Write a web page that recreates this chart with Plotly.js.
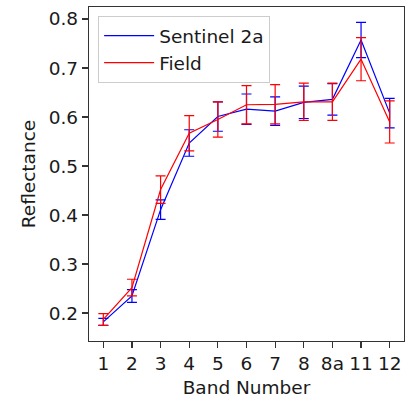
<!DOCTYPE html>
<html>
<head>
<meta charset="utf-8">
<script src="https://cdn.plot.ly/plotly-3.0.1.min.js"></script>
<style>html,body{margin:0;padding:0;background:#fff;}#chart{width:408px;height:398px;}</style>
</head>
<body>
<div id="chart"></div>
<script>
const bands = ["1","2","3","4","5","6","7","8","8a","11","12"];
const sentinelMean = [0.182, 0.235, 0.411, 0.547, 0.601, 0.616, 0.612, 0.630, 0.636, 0.757, 0.608];
const sentinelErr  = [0.007, 0.013, 0.020, 0.027, 0.030, 0.031, 0.029, 0.033, 0.032, 0.036, 0.030];
const fieldMean    = [0.187, 0.252, 0.452, 0.567, 0.595, 0.625, 0.626, 0.631, 0.631, 0.718, 0.590];
const fieldErr     = [0.012, 0.017, 0.028, 0.036, 0.036, 0.039, 0.040, 0.038, 0.038, 0.044, 0.043];

const font = {family: "DejaVu Sans", size: 18.5, color: "#1a1a1a"};

const traces = [
  {x: bands, y: sentinelMean, name: "Sentinel 2a", type: "scatter", mode: "lines",
   line: {color: "#0000ff", width: 1.2},
   error_y: {type: "data", array: sentinelErr, visible: true, color: "#0000ff", thickness: 1.2, width: 5}},
  {x: bands, y: fieldMean, name: "Field", type: "scatter", mode: "lines",
   line: {color: "#ff0000", width: 1.2},
   error_y: {type: "data", array: fieldErr, visible: true, color: "#ff0000", thickness: 1.2, width: 5}}
];

const layout = {
  width: 408, height: 398,
  margin: {l: 89, r: 4, t: 7, b: 57, pad: 0},
  paper_bgcolor: "#fff", plot_bgcolor: "#fff",
  font: font,
  showlegend: true,
  legend: {x: 0.029, y: 0.973, xanchor: "left", yanchor: "top",
           bgcolor: "#fff", bordercolor: "#cccccc", borderwidth: 1,
           itemwidth: 50, font: font},
  xaxis: {type: "category", range: [-0.5, 10.5], showgrid: false, zeroline: false,
          showline: true, mirror: true, linecolor: "#333", linewidth: 1.2,
          ticks: "outside", ticklen: 6, tickcolor: "#333", tickwidth: 1.2,
          tickfont: font,
          title: {text: "Band Number", font: font, standoff: 8}},
  yaxis: {range: [0.143, 0.8245], tick0: 0.2, dtick: 0.1, showgrid: false, zeroline: false,
          showline: true, mirror: true, linecolor: "#333", linewidth: 1.2,
          ticks: "outside", ticklen: 6, tickcolor: "#333", tickwidth: 1.2,
          tickfont: font, tickformat: ".1f",
          title: {text: "Reflectance", font: font, standoff: 8}}
};

Plotly.newPlot("chart", traces, layout, {displayModeBar: false, staticPlot: true});
</script>
</body>
</html>
